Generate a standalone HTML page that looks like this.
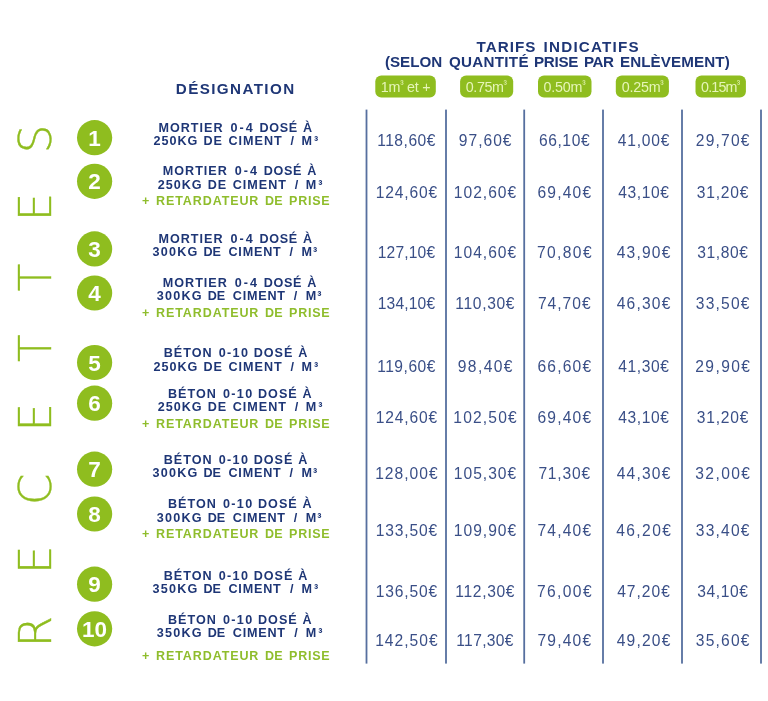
<!DOCTYPE html>
<html lang="fr"><head><meta charset="utf-8"><title>Tarifs indicatifs</title>
<style>
html,body{margin:0;padding:0;background:#fff;}
body{width:768px;height:701px;overflow:hidden;}
svg{display:block;will-change:transform;}
</style></head>
<body>
<svg width="768" height="701" viewBox="0 0 768 701">
<rect x="0" y="0" width="768" height="701" fill="#ffffff"/>
<text x="476.60" y="52.3" textLength="58.72" lengthAdjust="spacing" style="font-family:'Liberation Sans',sans-serif;font-weight:bold;font-size:15.2px" fill="#1e3676">TARIFS</text>
<text x="543.60" y="52.3" textLength="95.09" lengthAdjust="spacing" style="font-family:'Liberation Sans',sans-serif;font-weight:bold;font-size:15.2px" fill="#1e3676">INDICATIFS</text>
<text x="384.90" y="67.0" textLength="57.39" lengthAdjust="spacing" style="font-family:'Liberation Sans',sans-serif;font-weight:bold;font-size:15.2px" fill="#1e3676">(SELON</text>
<text x="448.90" y="67.0" textLength="79.62" lengthAdjust="spacing" style="font-family:'Liberation Sans',sans-serif;font-weight:bold;font-size:15.2px" fill="#1e3676">QUANTITÉ</text>
<text x="533.90" y="67.0" textLength="44.58" lengthAdjust="spacing" style="font-family:'Liberation Sans',sans-serif;font-weight:bold;font-size:15.2px" fill="#1e3676">PRISE</text>
<text x="583.90" y="67.0" textLength="29.95" lengthAdjust="spacing" style="font-family:'Liberation Sans',sans-serif;font-weight:bold;font-size:15.2px" fill="#1e3676">PAR</text>
<text x="619.90" y="67.0" textLength="109.86" lengthAdjust="spacing" style="font-family:'Liberation Sans',sans-serif;font-weight:bold;font-size:15.2px" fill="#1e3676">ENLÈVEMENT)</text>
<text x="175.80" y="93.7" textLength="118.36" lengthAdjust="spacing" style="font-family:'Liberation Sans',sans-serif;font-weight:bold;font-size:15.2px" fill="#1e3676">DÉSIGNATION</text>
<rect x="375.3" y="75.6" width="60.5" height="22.0" rx="6" fill="#8fbd1f"/>
<text x="380.70" y="91.6" textLength="49.94" lengthAdjust="spacing" style="font-family:'Liberation Sans',sans-serif;font-weight:normal;font-size:14.3px" fill="#e6f5b8">1m<tspan style="font-size:10px" dy="-4.6">³</tspan><tspan dy="4.6"> et +</tspan></text>
<rect x="460.1" y="75.6" width="53.1" height="22.0" rx="6" fill="#8fbd1f"/>
<text x="465.80" y="91.6" textLength="41.09" lengthAdjust="spacing" style="font-family:'Liberation Sans',sans-serif;font-weight:normal;font-size:14.3px" fill="#e6f5b8">0.75m<tspan style="font-size:10px" dy="-4.6">³</tspan></text>
<rect x="538.0" y="75.6" width="53.5" height="22.0" rx="6" fill="#8fbd1f"/>
<text x="543.50" y="91.6" textLength="42.19" lengthAdjust="spacing" style="font-family:'Liberation Sans',sans-serif;font-weight:normal;font-size:14.3px" fill="#e6f5b8">0.50m<tspan style="font-size:10px" dy="-4.6">³</tspan></text>
<rect x="615.8" y="75.6" width="53.1" height="22.0" rx="6" fill="#8fbd1f"/>
<text x="621.70" y="91.6" textLength="41.99" lengthAdjust="spacing" style="font-family:'Liberation Sans',sans-serif;font-weight:normal;font-size:14.3px" fill="#e6f5b8">0.25m<tspan style="font-size:10px" dy="-4.6">³</tspan></text>
<rect x="695.5" y="75.6" width="50.4" height="22.0" rx="6" fill="#8fbd1f"/>
<text x="701.00" y="91.6" textLength="38.99" lengthAdjust="spacing" style="font-family:'Liberation Sans',sans-serif;font-weight:normal;font-size:14.3px" fill="#e6f5b8">0.15m<tspan style="font-size:10px" dy="-4.6">³</tspan></text>
<rect x="365.6" y="109.6" width="1.8" height="554" fill="#566f9f"/>
<rect x="445.1" y="109.6" width="1.8" height="554" fill="#566f9f"/>
<rect x="523.3000000000001" y="109.6" width="1.8" height="554" fill="#566f9f"/>
<rect x="602.1" y="109.6" width="1.8" height="554" fill="#566f9f"/>
<rect x="681.1" y="109.6" width="1.8" height="554" fill="#566f9f"/>
<rect x="760.1" y="109.6" width="1.8" height="554" fill="#566f9f"/>
<circle cx="94.6" cy="137.7" r="17.6" fill="#8fbd1f"/>
<text x="94.6" y="145.7" text-anchor="middle" style="font-family:'Liberation Sans',sans-serif;font-weight:bold;font-size:22.5px" fill="#ffffff">1</text>
<circle cx="94.6" cy="181.3" r="17.6" fill="#8fbd1f"/>
<text x="94.6" y="189.3" text-anchor="middle" style="font-family:'Liberation Sans',sans-serif;font-weight:bold;font-size:22.5px" fill="#ffffff">2</text>
<circle cx="94.6" cy="248.9" r="17.6" fill="#8fbd1f"/>
<text x="94.6" y="256.9" text-anchor="middle" style="font-family:'Liberation Sans',sans-serif;font-weight:bold;font-size:22.5px" fill="#ffffff">3</text>
<circle cx="94.6" cy="293.0" r="17.6" fill="#8fbd1f"/>
<text x="94.6" y="301.0" text-anchor="middle" style="font-family:'Liberation Sans',sans-serif;font-weight:bold;font-size:22.5px" fill="#ffffff">4</text>
<circle cx="94.6" cy="362.5" r="17.6" fill="#8fbd1f"/>
<text x="94.6" y="370.5" text-anchor="middle" style="font-family:'Liberation Sans',sans-serif;font-weight:bold;font-size:22.5px" fill="#ffffff">5</text>
<circle cx="94.6" cy="403.2" r="17.6" fill="#8fbd1f"/>
<text x="94.6" y="411.2" text-anchor="middle" style="font-family:'Liberation Sans',sans-serif;font-weight:bold;font-size:22.5px" fill="#ffffff">6</text>
<circle cx="94.6" cy="469.2" r="17.6" fill="#8fbd1f"/>
<text x="94.6" y="477.2" text-anchor="middle" style="font-family:'Liberation Sans',sans-serif;font-weight:bold;font-size:22.5px" fill="#ffffff">7</text>
<circle cx="94.6" cy="514.0" r="17.6" fill="#8fbd1f"/>
<text x="94.6" y="522.0" text-anchor="middle" style="font-family:'Liberation Sans',sans-serif;font-weight:bold;font-size:22.5px" fill="#ffffff">8</text>
<circle cx="94.6" cy="584.2" r="17.6" fill="#8fbd1f"/>
<text x="94.6" y="592.2" text-anchor="middle" style="font-family:'Liberation Sans',sans-serif;font-weight:bold;font-size:22.5px" fill="#ffffff">9</text>
<circle cx="94.6" cy="628.8" r="17.6" fill="#8fbd1f"/>
<text x="94.6" y="636.8" text-anchor="middle" style="font-family:'Liberation Sans',sans-serif;font-weight:bold;font-size:22.5px" fill="#ffffff">10</text>
<text x="158.45" y="131.8" textLength="64.08" lengthAdjust="spacing" style="font-family:'Liberation Sans',sans-serif;font-weight:bold;font-size:12.6px" fill="#1e3676">MORTIER</text>
<text x="230.45" y="131.8" textLength="22.20" lengthAdjust="spacing" style="font-family:'Liberation Sans',sans-serif;font-weight:bold;font-size:12.6px" fill="#1e3676">0-4</text>
<text x="259.45" y="131.8" textLength="37.70" lengthAdjust="spacing" style="font-family:'Liberation Sans',sans-serif;font-weight:bold;font-size:12.6px" fill="#1e3676">DOSÉ</text>
<text x="302.95" y="131.8" style="font-family:'Liberation Sans',sans-serif;font-weight:bold;font-size:12.6px" fill="#1e3676">À</text>
<text x="153.45" y="145.4" textLength="43.91" lengthAdjust="spacing" style="font-family:'Liberation Sans',sans-serif;font-weight:bold;font-size:12.6px" fill="#1e3676">250KG</text>
<text x="203.45" y="145.4" textLength="18.50" lengthAdjust="spacing" style="font-family:'Liberation Sans',sans-serif;font-weight:bold;font-size:12.6px" fill="#1e3676">DE</text>
<text x="228.45" y="145.4" textLength="53.28" lengthAdjust="spacing" style="font-family:'Liberation Sans',sans-serif;font-weight:bold;font-size:12.6px" fill="#1e3676">CIMENT</text>
<text x="290.45" y="145.4" style="font-family:'Liberation Sans',sans-serif;font-weight:bold;font-size:12.6px" fill="#1e3676">/</text>
<text x="301.45" y="145.4" textLength="16.69" lengthAdjust="spacing" style="font-family:'Liberation Sans',sans-serif;font-weight:bold;font-size:12.6px" fill="#1e3676">M³</text>
<text x="162.75" y="175.3" textLength="64.08" lengthAdjust="spacing" style="font-family:'Liberation Sans',sans-serif;font-weight:bold;font-size:12.6px" fill="#1e3676">MORTIER</text>
<text x="234.75" y="175.3" textLength="22.20" lengthAdjust="spacing" style="font-family:'Liberation Sans',sans-serif;font-weight:bold;font-size:12.6px" fill="#1e3676">0-4</text>
<text x="263.75" y="175.3" textLength="37.70" lengthAdjust="spacing" style="font-family:'Liberation Sans',sans-serif;font-weight:bold;font-size:12.6px" fill="#1e3676">DOSÉ</text>
<text x="307.25" y="175.3" style="font-family:'Liberation Sans',sans-serif;font-weight:bold;font-size:12.6px" fill="#1e3676">À</text>
<text x="157.75" y="188.8" textLength="43.91" lengthAdjust="spacing" style="font-family:'Liberation Sans',sans-serif;font-weight:bold;font-size:12.6px" fill="#1e3676">250KG</text>
<text x="207.75" y="188.8" textLength="18.50" lengthAdjust="spacing" style="font-family:'Liberation Sans',sans-serif;font-weight:bold;font-size:12.6px" fill="#1e3676">DE</text>
<text x="232.75" y="188.8" textLength="53.28" lengthAdjust="spacing" style="font-family:'Liberation Sans',sans-serif;font-weight:bold;font-size:12.6px" fill="#1e3676">CIMENT</text>
<text x="294.75" y="188.8" style="font-family:'Liberation Sans',sans-serif;font-weight:bold;font-size:12.6px" fill="#1e3676">/</text>
<text x="305.75" y="188.8" textLength="16.69" lengthAdjust="spacing" style="font-family:'Liberation Sans',sans-serif;font-weight:bold;font-size:12.6px" fill="#1e3676">M³</text>
<text x="142.10" y="205.2" style="font-family:'Liberation Sans',sans-serif;font-weight:bold;font-size:12.5px" fill="#8fbd2c">+</text>
<text x="156.10" y="205.2" textLength="102.28" lengthAdjust="spacing" style="font-family:'Liberation Sans',sans-serif;font-weight:bold;font-size:12.5px" fill="#8fbd2c">RETARDATEUR</text>
<text x="265.10" y="205.2" textLength="17.38" lengthAdjust="spacing" style="font-family:'Liberation Sans',sans-serif;font-weight:bold;font-size:12.5px" fill="#8fbd2c">DE</text>
<text x="289.10" y="205.2" textLength="40.52" lengthAdjust="spacing" style="font-family:'Liberation Sans',sans-serif;font-weight:bold;font-size:12.5px" fill="#8fbd2c">PRISE</text>
<text x="158.45" y="242.8" textLength="64.08" lengthAdjust="spacing" style="font-family:'Liberation Sans',sans-serif;font-weight:bold;font-size:12.6px" fill="#1e3676">MORTIER</text>
<text x="230.45" y="242.8" textLength="22.20" lengthAdjust="spacing" style="font-family:'Liberation Sans',sans-serif;font-weight:bold;font-size:12.6px" fill="#1e3676">0-4</text>
<text x="259.45" y="242.8" textLength="37.70" lengthAdjust="spacing" style="font-family:'Liberation Sans',sans-serif;font-weight:bold;font-size:12.6px" fill="#1e3676">DOSÉ</text>
<text x="302.95" y="242.8" style="font-family:'Liberation Sans',sans-serif;font-weight:bold;font-size:12.6px" fill="#1e3676">À</text>
<text x="152.45" y="256.4" textLength="44.91" lengthAdjust="spacing" style="font-family:'Liberation Sans',sans-serif;font-weight:bold;font-size:12.6px" fill="#1e3676">300KG</text>
<text x="203.45" y="256.4" textLength="17.50" lengthAdjust="spacing" style="font-family:'Liberation Sans',sans-serif;font-weight:bold;font-size:12.6px" fill="#1e3676">DE</text>
<text x="228.45" y="256.4" textLength="52.28" lengthAdjust="spacing" style="font-family:'Liberation Sans',sans-serif;font-weight:bold;font-size:12.6px" fill="#1e3676">CIMENT</text>
<text x="289.45" y="256.4" style="font-family:'Liberation Sans',sans-serif;font-weight:bold;font-size:12.6px" fill="#1e3676">/</text>
<text x="301.45" y="256.4" textLength="15.69" lengthAdjust="spacing" style="font-family:'Liberation Sans',sans-serif;font-weight:bold;font-size:12.6px" fill="#1e3676">M³</text>
<text x="162.75" y="286.8" textLength="64.08" lengthAdjust="spacing" style="font-family:'Liberation Sans',sans-serif;font-weight:bold;font-size:12.6px" fill="#1e3676">MORTIER</text>
<text x="234.75" y="286.8" textLength="22.20" lengthAdjust="spacing" style="font-family:'Liberation Sans',sans-serif;font-weight:bold;font-size:12.6px" fill="#1e3676">0-4</text>
<text x="263.75" y="286.8" textLength="37.70" lengthAdjust="spacing" style="font-family:'Liberation Sans',sans-serif;font-weight:bold;font-size:12.6px" fill="#1e3676">DOSÉ</text>
<text x="307.25" y="286.8" style="font-family:'Liberation Sans',sans-serif;font-weight:bold;font-size:12.6px" fill="#1e3676">À</text>
<text x="156.75" y="300.3" textLength="44.91" lengthAdjust="spacing" style="font-family:'Liberation Sans',sans-serif;font-weight:bold;font-size:12.6px" fill="#1e3676">300KG</text>
<text x="207.75" y="300.3" textLength="17.50" lengthAdjust="spacing" style="font-family:'Liberation Sans',sans-serif;font-weight:bold;font-size:12.6px" fill="#1e3676">DE</text>
<text x="232.75" y="300.3" textLength="52.28" lengthAdjust="spacing" style="font-family:'Liberation Sans',sans-serif;font-weight:bold;font-size:12.6px" fill="#1e3676">CIMENT</text>
<text x="293.75" y="300.3" style="font-family:'Liberation Sans',sans-serif;font-weight:bold;font-size:12.6px" fill="#1e3676">/</text>
<text x="305.75" y="300.3" textLength="15.69" lengthAdjust="spacing" style="font-family:'Liberation Sans',sans-serif;font-weight:bold;font-size:12.6px" fill="#1e3676">M³</text>
<text x="142.10" y="317.2" style="font-family:'Liberation Sans',sans-serif;font-weight:bold;font-size:12.5px" fill="#8fbd2c">+</text>
<text x="156.10" y="317.2" textLength="102.28" lengthAdjust="spacing" style="font-family:'Liberation Sans',sans-serif;font-weight:bold;font-size:12.5px" fill="#8fbd2c">RETARDATEUR</text>
<text x="265.10" y="317.2" textLength="17.38" lengthAdjust="spacing" style="font-family:'Liberation Sans',sans-serif;font-weight:bold;font-size:12.5px" fill="#8fbd2c">DE</text>
<text x="289.10" y="317.2" textLength="40.52" lengthAdjust="spacing" style="font-family:'Liberation Sans',sans-serif;font-weight:bold;font-size:12.5px" fill="#8fbd2c">PRISE</text>
<text x="163.70" y="357.4" textLength="47.86" lengthAdjust="spacing" style="font-family:'Liberation Sans',sans-serif;font-weight:bold;font-size:12.6px" fill="#1e3676">BÉTON</text>
<text x="218.70" y="357.4" textLength="29.22" lengthAdjust="spacing" style="font-family:'Liberation Sans',sans-serif;font-weight:bold;font-size:12.6px" fill="#1e3676">0-10</text>
<text x="253.70" y="357.4" textLength="38.70" lengthAdjust="spacing" style="font-family:'Liberation Sans',sans-serif;font-weight:bold;font-size:12.6px" fill="#1e3676">DOSÉ</text>
<text x="298.20" y="357.4" style="font-family:'Liberation Sans',sans-serif;font-weight:bold;font-size:12.6px" fill="#1e3676">À</text>
<text x="153.45" y="371.0" textLength="43.91" lengthAdjust="spacing" style="font-family:'Liberation Sans',sans-serif;font-weight:bold;font-size:12.6px" fill="#1e3676">250KG</text>
<text x="203.45" y="371.0" textLength="18.50" lengthAdjust="spacing" style="font-family:'Liberation Sans',sans-serif;font-weight:bold;font-size:12.6px" fill="#1e3676">DE</text>
<text x="228.45" y="371.0" textLength="53.28" lengthAdjust="spacing" style="font-family:'Liberation Sans',sans-serif;font-weight:bold;font-size:12.6px" fill="#1e3676">CIMENT</text>
<text x="290.45" y="371.0" style="font-family:'Liberation Sans',sans-serif;font-weight:bold;font-size:12.6px" fill="#1e3676">/</text>
<text x="301.45" y="371.0" textLength="16.69" lengthAdjust="spacing" style="font-family:'Liberation Sans',sans-serif;font-weight:bold;font-size:12.6px" fill="#1e3676">M³</text>
<text x="168.00" y="397.5" textLength="47.86" lengthAdjust="spacing" style="font-family:'Liberation Sans',sans-serif;font-weight:bold;font-size:12.6px" fill="#1e3676">BÉTON</text>
<text x="223.00" y="397.5" textLength="29.22" lengthAdjust="spacing" style="font-family:'Liberation Sans',sans-serif;font-weight:bold;font-size:12.6px" fill="#1e3676">0-10</text>
<text x="258.00" y="397.5" textLength="38.70" lengthAdjust="spacing" style="font-family:'Liberation Sans',sans-serif;font-weight:bold;font-size:12.6px" fill="#1e3676">DOSÉ</text>
<text x="302.50" y="397.5" style="font-family:'Liberation Sans',sans-serif;font-weight:bold;font-size:12.6px" fill="#1e3676">À</text>
<text x="157.75" y="411.0" textLength="43.91" lengthAdjust="spacing" style="font-family:'Liberation Sans',sans-serif;font-weight:bold;font-size:12.6px" fill="#1e3676">250KG</text>
<text x="207.75" y="411.0" textLength="18.50" lengthAdjust="spacing" style="font-family:'Liberation Sans',sans-serif;font-weight:bold;font-size:12.6px" fill="#1e3676">DE</text>
<text x="232.75" y="411.0" textLength="53.28" lengthAdjust="spacing" style="font-family:'Liberation Sans',sans-serif;font-weight:bold;font-size:12.6px" fill="#1e3676">CIMENT</text>
<text x="294.75" y="411.0" style="font-family:'Liberation Sans',sans-serif;font-weight:bold;font-size:12.6px" fill="#1e3676">/</text>
<text x="305.75" y="411.0" textLength="16.69" lengthAdjust="spacing" style="font-family:'Liberation Sans',sans-serif;font-weight:bold;font-size:12.6px" fill="#1e3676">M³</text>
<text x="142.10" y="427.7" style="font-family:'Liberation Sans',sans-serif;font-weight:bold;font-size:12.5px" fill="#8fbd2c">+</text>
<text x="156.10" y="427.7" textLength="102.28" lengthAdjust="spacing" style="font-family:'Liberation Sans',sans-serif;font-weight:bold;font-size:12.5px" fill="#8fbd2c">RETARDATEUR</text>
<text x="265.10" y="427.7" textLength="17.38" lengthAdjust="spacing" style="font-family:'Liberation Sans',sans-serif;font-weight:bold;font-size:12.5px" fill="#8fbd2c">DE</text>
<text x="289.10" y="427.7" textLength="40.52" lengthAdjust="spacing" style="font-family:'Liberation Sans',sans-serif;font-weight:bold;font-size:12.5px" fill="#8fbd2c">PRISE</text>
<text x="163.70" y="463.8" textLength="47.86" lengthAdjust="spacing" style="font-family:'Liberation Sans',sans-serif;font-weight:bold;font-size:12.6px" fill="#1e3676">BÉTON</text>
<text x="218.70" y="463.8" textLength="29.22" lengthAdjust="spacing" style="font-family:'Liberation Sans',sans-serif;font-weight:bold;font-size:12.6px" fill="#1e3676">0-10</text>
<text x="253.70" y="463.8" textLength="38.70" lengthAdjust="spacing" style="font-family:'Liberation Sans',sans-serif;font-weight:bold;font-size:12.6px" fill="#1e3676">DOSÉ</text>
<text x="298.20" y="463.8" style="font-family:'Liberation Sans',sans-serif;font-weight:bold;font-size:12.6px" fill="#1e3676">À</text>
<text x="152.45" y="477.4" textLength="44.91" lengthAdjust="spacing" style="font-family:'Liberation Sans',sans-serif;font-weight:bold;font-size:12.6px" fill="#1e3676">300KG</text>
<text x="203.45" y="477.4" textLength="17.50" lengthAdjust="spacing" style="font-family:'Liberation Sans',sans-serif;font-weight:bold;font-size:12.6px" fill="#1e3676">DE</text>
<text x="228.45" y="477.4" textLength="52.28" lengthAdjust="spacing" style="font-family:'Liberation Sans',sans-serif;font-weight:bold;font-size:12.6px" fill="#1e3676">CIMENT</text>
<text x="289.45" y="477.4" style="font-family:'Liberation Sans',sans-serif;font-weight:bold;font-size:12.6px" fill="#1e3676">/</text>
<text x="301.45" y="477.4" textLength="15.69" lengthAdjust="spacing" style="font-family:'Liberation Sans',sans-serif;font-weight:bold;font-size:12.6px" fill="#1e3676">M³</text>
<text x="168.00" y="508.0" textLength="47.86" lengthAdjust="spacing" style="font-family:'Liberation Sans',sans-serif;font-weight:bold;font-size:12.6px" fill="#1e3676">BÉTON</text>
<text x="223.00" y="508.0" textLength="29.22" lengthAdjust="spacing" style="font-family:'Liberation Sans',sans-serif;font-weight:bold;font-size:12.6px" fill="#1e3676">0-10</text>
<text x="258.00" y="508.0" textLength="38.70" lengthAdjust="spacing" style="font-family:'Liberation Sans',sans-serif;font-weight:bold;font-size:12.6px" fill="#1e3676">DOSÉ</text>
<text x="302.50" y="508.0" style="font-family:'Liberation Sans',sans-serif;font-weight:bold;font-size:12.6px" fill="#1e3676">À</text>
<text x="156.75" y="521.6" textLength="44.91" lengthAdjust="spacing" style="font-family:'Liberation Sans',sans-serif;font-weight:bold;font-size:12.6px" fill="#1e3676">300KG</text>
<text x="207.75" y="521.6" textLength="17.50" lengthAdjust="spacing" style="font-family:'Liberation Sans',sans-serif;font-weight:bold;font-size:12.6px" fill="#1e3676">DE</text>
<text x="232.75" y="521.6" textLength="52.28" lengthAdjust="spacing" style="font-family:'Liberation Sans',sans-serif;font-weight:bold;font-size:12.6px" fill="#1e3676">CIMENT</text>
<text x="293.75" y="521.6" style="font-family:'Liberation Sans',sans-serif;font-weight:bold;font-size:12.6px" fill="#1e3676">/</text>
<text x="305.75" y="521.6" textLength="15.69" lengthAdjust="spacing" style="font-family:'Liberation Sans',sans-serif;font-weight:bold;font-size:12.6px" fill="#1e3676">M³</text>
<text x="142.10" y="538.2" style="font-family:'Liberation Sans',sans-serif;font-weight:bold;font-size:12.5px" fill="#8fbd2c">+</text>
<text x="156.10" y="538.2" textLength="102.28" lengthAdjust="spacing" style="font-family:'Liberation Sans',sans-serif;font-weight:bold;font-size:12.5px" fill="#8fbd2c">RETARDATEUR</text>
<text x="265.10" y="538.2" textLength="17.38" lengthAdjust="spacing" style="font-family:'Liberation Sans',sans-serif;font-weight:bold;font-size:12.5px" fill="#8fbd2c">DE</text>
<text x="289.10" y="538.2" textLength="40.52" lengthAdjust="spacing" style="font-family:'Liberation Sans',sans-serif;font-weight:bold;font-size:12.5px" fill="#8fbd2c">PRISE</text>
<text x="163.70" y="579.6" textLength="47.86" lengthAdjust="spacing" style="font-family:'Liberation Sans',sans-serif;font-weight:bold;font-size:12.6px" fill="#1e3676">BÉTON</text>
<text x="218.70" y="579.6" textLength="29.22" lengthAdjust="spacing" style="font-family:'Liberation Sans',sans-serif;font-weight:bold;font-size:12.6px" fill="#1e3676">0-10</text>
<text x="253.70" y="579.6" textLength="38.70" lengthAdjust="spacing" style="font-family:'Liberation Sans',sans-serif;font-weight:bold;font-size:12.6px" fill="#1e3676">DOSÉ</text>
<text x="298.20" y="579.6" style="font-family:'Liberation Sans',sans-serif;font-weight:bold;font-size:12.6px" fill="#1e3676">À</text>
<text x="152.45" y="592.7" textLength="44.91" lengthAdjust="spacing" style="font-family:'Liberation Sans',sans-serif;font-weight:bold;font-size:12.6px" fill="#1e3676">350KG</text>
<text x="203.45" y="592.7" textLength="17.50" lengthAdjust="spacing" style="font-family:'Liberation Sans',sans-serif;font-weight:bold;font-size:12.6px" fill="#1e3676">DE</text>
<text x="228.45" y="592.7" textLength="52.28" lengthAdjust="spacing" style="font-family:'Liberation Sans',sans-serif;font-weight:bold;font-size:12.6px" fill="#1e3676">CIMENT</text>
<text x="289.95" y="592.7" style="font-family:'Liberation Sans',sans-serif;font-weight:bold;font-size:12.6px" fill="#1e3676">/</text>
<text x="301.45" y="592.7" textLength="16.69" lengthAdjust="spacing" style="font-family:'Liberation Sans',sans-serif;font-weight:bold;font-size:12.6px" fill="#1e3676">M³</text>
<text x="168.00" y="623.6" textLength="47.86" lengthAdjust="spacing" style="font-family:'Liberation Sans',sans-serif;font-weight:bold;font-size:12.6px" fill="#1e3676">BÉTON</text>
<text x="223.00" y="623.6" textLength="29.22" lengthAdjust="spacing" style="font-family:'Liberation Sans',sans-serif;font-weight:bold;font-size:12.6px" fill="#1e3676">0-10</text>
<text x="258.00" y="623.6" textLength="38.70" lengthAdjust="spacing" style="font-family:'Liberation Sans',sans-serif;font-weight:bold;font-size:12.6px" fill="#1e3676">DOSÉ</text>
<text x="302.50" y="623.6" style="font-family:'Liberation Sans',sans-serif;font-weight:bold;font-size:12.6px" fill="#1e3676">À</text>
<text x="156.75" y="637.2" textLength="44.91" lengthAdjust="spacing" style="font-family:'Liberation Sans',sans-serif;font-weight:bold;font-size:12.6px" fill="#1e3676">350KG</text>
<text x="207.75" y="637.2" textLength="17.50" lengthAdjust="spacing" style="font-family:'Liberation Sans',sans-serif;font-weight:bold;font-size:12.6px" fill="#1e3676">DE</text>
<text x="232.75" y="637.2" textLength="52.28" lengthAdjust="spacing" style="font-family:'Liberation Sans',sans-serif;font-weight:bold;font-size:12.6px" fill="#1e3676">CIMENT</text>
<text x="294.25" y="637.2" style="font-family:'Liberation Sans',sans-serif;font-weight:bold;font-size:12.6px" fill="#1e3676">/</text>
<text x="305.75" y="637.2" textLength="16.69" lengthAdjust="spacing" style="font-family:'Liberation Sans',sans-serif;font-weight:bold;font-size:12.6px" fill="#1e3676">M³</text>
<text x="142.10" y="659.7" style="font-family:'Liberation Sans',sans-serif;font-weight:bold;font-size:12.5px" fill="#8fbd2c">+</text>
<text x="156.10" y="659.7" textLength="102.28" lengthAdjust="spacing" style="font-family:'Liberation Sans',sans-serif;font-weight:bold;font-size:12.5px" fill="#8fbd2c">RETARDATEUR</text>
<text x="265.10" y="659.7" textLength="17.38" lengthAdjust="spacing" style="font-family:'Liberation Sans',sans-serif;font-weight:bold;font-size:12.5px" fill="#8fbd2c">DE</text>
<text x="289.10" y="659.7" textLength="40.52" lengthAdjust="spacing" style="font-family:'Liberation Sans',sans-serif;font-weight:bold;font-size:12.5px" fill="#8fbd2c">PRISE</text>
<text x="377.20" y="146.1" textLength="58.22" lengthAdjust="spacing" style="font-family:'Liberation Sans',sans-serif;font-weight:normal;font-size:15.6px" fill="#3a4f87">118,60€</text>
<text x="458.80" y="146.1" textLength="52.70" lengthAdjust="spacing" style="font-family:'Liberation Sans',sans-serif;font-weight:normal;font-size:15.6px" fill="#3a4f87">97,60€</text>
<text x="538.90" y="146.1" textLength="50.70" lengthAdjust="spacing" style="font-family:'Liberation Sans',sans-serif;font-weight:normal;font-size:15.6px" fill="#3a4f87">66,10€</text>
<text x="617.70" y="146.1" textLength="51.70" lengthAdjust="spacing" style="font-family:'Liberation Sans',sans-serif;font-weight:normal;font-size:15.6px" fill="#3a4f87">41,00€</text>
<text x="695.80" y="146.1" textLength="53.70" lengthAdjust="spacing" style="font-family:'Liberation Sans',sans-serif;font-weight:normal;font-size:15.6px" fill="#3a4f87">29,70€</text>
<text x="375.70" y="198.1" textLength="61.38" lengthAdjust="spacing" style="font-family:'Liberation Sans',sans-serif;font-weight:normal;font-size:15.6px" fill="#3a4f87">124,60€</text>
<text x="453.80" y="198.1" textLength="62.37" lengthAdjust="spacing" style="font-family:'Liberation Sans',sans-serif;font-weight:normal;font-size:15.6px" fill="#3a4f87">102,60€</text>
<text x="537.40" y="198.1" textLength="53.70" lengthAdjust="spacing" style="font-family:'Liberation Sans',sans-serif;font-weight:normal;font-size:15.6px" fill="#3a4f87">69,40€</text>
<text x="618.20" y="198.1" textLength="50.70" lengthAdjust="spacing" style="font-family:'Liberation Sans',sans-serif;font-weight:normal;font-size:15.6px" fill="#3a4f87">43,10€</text>
<text x="696.80" y="198.1" textLength="51.70" lengthAdjust="spacing" style="font-family:'Liberation Sans',sans-serif;font-weight:normal;font-size:15.6px" fill="#3a4f87">31,20€</text>
<text x="377.70" y="258.0" textLength="57.38" lengthAdjust="spacing" style="font-family:'Liberation Sans',sans-serif;font-weight:normal;font-size:15.6px" fill="#3a4f87">127,10€</text>
<text x="453.80" y="258.0" textLength="62.37" lengthAdjust="spacing" style="font-family:'Liberation Sans',sans-serif;font-weight:normal;font-size:15.6px" fill="#3a4f87">104,60€</text>
<text x="536.90" y="258.0" textLength="54.70" lengthAdjust="spacing" style="font-family:'Liberation Sans',sans-serif;font-weight:normal;font-size:15.6px" fill="#3a4f87">70,80€</text>
<text x="616.70" y="258.0" textLength="53.70" lengthAdjust="spacing" style="font-family:'Liberation Sans',sans-serif;font-weight:normal;font-size:15.6px" fill="#3a4f87">43,90€</text>
<text x="697.30" y="258.0" textLength="50.70" lengthAdjust="spacing" style="font-family:'Liberation Sans',sans-serif;font-weight:normal;font-size:15.6px" fill="#3a4f87">31,80€</text>
<text x="377.70" y="308.9" textLength="57.38" lengthAdjust="spacing" style="font-family:'Liberation Sans',sans-serif;font-weight:normal;font-size:15.6px" fill="#3a4f87">134,10€</text>
<text x="455.30" y="308.9" textLength="59.22" lengthAdjust="spacing" style="font-family:'Liberation Sans',sans-serif;font-weight:normal;font-size:15.6px" fill="#3a4f87">110,30€</text>
<text x="537.90" y="308.9" textLength="52.70" lengthAdjust="spacing" style="font-family:'Liberation Sans',sans-serif;font-weight:normal;font-size:15.6px" fill="#3a4f87">74,70€</text>
<text x="616.70" y="308.9" textLength="53.70" lengthAdjust="spacing" style="font-family:'Liberation Sans',sans-serif;font-weight:normal;font-size:15.6px" fill="#3a4f87">46,30€</text>
<text x="695.80" y="308.9" textLength="53.70" lengthAdjust="spacing" style="font-family:'Liberation Sans',sans-serif;font-weight:normal;font-size:15.6px" fill="#3a4f87">33,50€</text>
<text x="377.20" y="372.1" textLength="58.22" lengthAdjust="spacing" style="font-family:'Liberation Sans',sans-serif;font-weight:normal;font-size:15.6px" fill="#3a4f87">119,60€</text>
<text x="457.80" y="372.1" textLength="54.70" lengthAdjust="spacing" style="font-family:'Liberation Sans',sans-serif;font-weight:normal;font-size:15.6px" fill="#3a4f87">98,40€</text>
<text x="537.40" y="372.1" textLength="53.70" lengthAdjust="spacing" style="font-family:'Liberation Sans',sans-serif;font-weight:normal;font-size:15.6px" fill="#3a4f87">66,60€</text>
<text x="618.20" y="372.1" textLength="50.70" lengthAdjust="spacing" style="font-family:'Liberation Sans',sans-serif;font-weight:normal;font-size:15.6px" fill="#3a4f87">41,30€</text>
<text x="695.30" y="372.1" textLength="54.70" lengthAdjust="spacing" style="font-family:'Liberation Sans',sans-serif;font-weight:normal;font-size:15.6px" fill="#3a4f87">29,90€</text>
<text x="375.70" y="423.4" textLength="61.38" lengthAdjust="spacing" style="font-family:'Liberation Sans',sans-serif;font-weight:normal;font-size:15.6px" fill="#3a4f87">124,60€</text>
<text x="453.30" y="423.4" textLength="63.37" lengthAdjust="spacing" style="font-family:'Liberation Sans',sans-serif;font-weight:normal;font-size:15.6px" fill="#3a4f87">102,50€</text>
<text x="537.40" y="423.4" textLength="53.70" lengthAdjust="spacing" style="font-family:'Liberation Sans',sans-serif;font-weight:normal;font-size:15.6px" fill="#3a4f87">69,40€</text>
<text x="618.20" y="423.4" textLength="50.70" lengthAdjust="spacing" style="font-family:'Liberation Sans',sans-serif;font-weight:normal;font-size:15.6px" fill="#3a4f87">43,10€</text>
<text x="696.80" y="423.4" textLength="51.70" lengthAdjust="spacing" style="font-family:'Liberation Sans',sans-serif;font-weight:normal;font-size:15.6px" fill="#3a4f87">31,20€</text>
<text x="375.20" y="479.3" textLength="62.38" lengthAdjust="spacing" style="font-family:'Liberation Sans',sans-serif;font-weight:normal;font-size:15.6px" fill="#3a4f87">128,00€</text>
<text x="453.80" y="479.3" textLength="62.37" lengthAdjust="spacing" style="font-family:'Liberation Sans',sans-serif;font-weight:normal;font-size:15.6px" fill="#3a4f87">105,30€</text>
<text x="538.40" y="479.3" textLength="51.70" lengthAdjust="spacing" style="font-family:'Liberation Sans',sans-serif;font-weight:normal;font-size:15.6px" fill="#3a4f87">71,30€</text>
<text x="616.70" y="479.3" textLength="53.70" lengthAdjust="spacing" style="font-family:'Liberation Sans',sans-serif;font-weight:normal;font-size:15.6px" fill="#3a4f87">44,30€</text>
<text x="695.30" y="479.3" textLength="54.70" lengthAdjust="spacing" style="font-family:'Liberation Sans',sans-serif;font-weight:normal;font-size:15.6px" fill="#3a4f87">32,00€</text>
<text x="375.70" y="536.1" textLength="61.38" lengthAdjust="spacing" style="font-family:'Liberation Sans',sans-serif;font-weight:normal;font-size:15.6px" fill="#3a4f87">133,50€</text>
<text x="453.80" y="536.1" textLength="62.37" lengthAdjust="spacing" style="font-family:'Liberation Sans',sans-serif;font-weight:normal;font-size:15.6px" fill="#3a4f87">109,90€</text>
<text x="537.40" y="536.1" textLength="53.70" lengthAdjust="spacing" style="font-family:'Liberation Sans',sans-serif;font-weight:normal;font-size:15.6px" fill="#3a4f87">74,40€</text>
<text x="616.20" y="536.1" textLength="54.70" lengthAdjust="spacing" style="font-family:'Liberation Sans',sans-serif;font-weight:normal;font-size:15.6px" fill="#3a4f87">46,20€</text>
<text x="695.80" y="536.1" textLength="53.70" lengthAdjust="spacing" style="font-family:'Liberation Sans',sans-serif;font-weight:normal;font-size:15.6px" fill="#3a4f87">33,40€</text>
<text x="375.70" y="596.5" textLength="61.38" lengthAdjust="spacing" style="font-family:'Liberation Sans',sans-serif;font-weight:normal;font-size:15.6px" fill="#3a4f87">136,50€</text>
<text x="455.30" y="596.5" textLength="59.22" lengthAdjust="spacing" style="font-family:'Liberation Sans',sans-serif;font-weight:normal;font-size:15.6px" fill="#3a4f87">112,30€</text>
<text x="536.90" y="596.5" textLength="54.70" lengthAdjust="spacing" style="font-family:'Liberation Sans',sans-serif;font-weight:normal;font-size:15.6px" fill="#3a4f87">76,00€</text>
<text x="617.20" y="596.5" textLength="52.70" lengthAdjust="spacing" style="font-family:'Liberation Sans',sans-serif;font-weight:normal;font-size:15.6px" fill="#3a4f87">47,20€</text>
<text x="697.30" y="596.5" textLength="50.70" lengthAdjust="spacing" style="font-family:'Liberation Sans',sans-serif;font-weight:normal;font-size:15.6px" fill="#3a4f87">34,10€</text>
<text x="375.20" y="646.0" textLength="62.38" lengthAdjust="spacing" style="font-family:'Liberation Sans',sans-serif;font-weight:normal;font-size:15.6px" fill="#3a4f87">142,50€</text>
<text x="456.30" y="646.0" textLength="57.22" lengthAdjust="spacing" style="font-family:'Liberation Sans',sans-serif;font-weight:normal;font-size:15.6px" fill="#3a4f87">117,30€</text>
<text x="537.40" y="646.0" textLength="53.70" lengthAdjust="spacing" style="font-family:'Liberation Sans',sans-serif;font-weight:normal;font-size:15.6px" fill="#3a4f87">79,40€</text>
<text x="616.70" y="646.0" textLength="53.70" lengthAdjust="spacing" style="font-family:'Liberation Sans',sans-serif;font-weight:normal;font-size:15.6px" fill="#3a4f87">49,20€</text>
<text x="695.80" y="646.0" textLength="53.70" lengthAdjust="spacing" style="font-family:'Liberation Sans',sans-serif;font-weight:normal;font-size:15.6px" fill="#3a4f87">35,60€</text>
<text transform="translate(51,631.5) rotate(-90)" text-anchor="middle" style="font-family:'DejaVu Sans',sans-serif;font-weight:200;font-size:45px" fill="#8fbd1f" stroke="#8fbd1f" stroke-width="0.35">R</text>
<text transform="translate(51,559.8) rotate(-90)" text-anchor="middle" style="font-family:'DejaVu Sans',sans-serif;font-weight:200;font-size:45px" fill="#8fbd1f" stroke="#8fbd1f" stroke-width="0.35">E</text>
<text transform="translate(51,489.3) rotate(-90)" text-anchor="middle" style="font-family:'DejaVu Sans',sans-serif;font-weight:200;font-size:45px" fill="#8fbd1f" stroke="#8fbd1f" stroke-width="0.35">C</text>
<text transform="translate(51,417.4) rotate(-90)" text-anchor="middle" style="font-family:'DejaVu Sans',sans-serif;font-weight:200;font-size:45px" fill="#8fbd1f" stroke="#8fbd1f" stroke-width="0.35">E</text>
<text transform="translate(51,348.2) rotate(-90)" text-anchor="middle" style="font-family:'DejaVu Sans',sans-serif;font-weight:200;font-size:45px" fill="#8fbd1f" stroke="#8fbd1f" stroke-width="0.35">T</text>
<text transform="translate(51,277.5) rotate(-90)" text-anchor="middle" style="font-family:'DejaVu Sans',sans-serif;font-weight:200;font-size:45px" fill="#8fbd1f" stroke="#8fbd1f" stroke-width="0.35">T</text>
<text transform="translate(51,207.0) rotate(-90)" text-anchor="middle" style="font-family:'DejaVu Sans',sans-serif;font-weight:200;font-size:45px" fill="#8fbd1f" stroke="#8fbd1f" stroke-width="0.35">E</text>
<text transform="translate(51,138.9) rotate(-90)" text-anchor="middle" style="font-family:'DejaVu Sans',sans-serif;font-weight:200;font-size:45px" fill="#8fbd1f" stroke="#8fbd1f" stroke-width="0.35">S</text>
</svg>
</body></html>
